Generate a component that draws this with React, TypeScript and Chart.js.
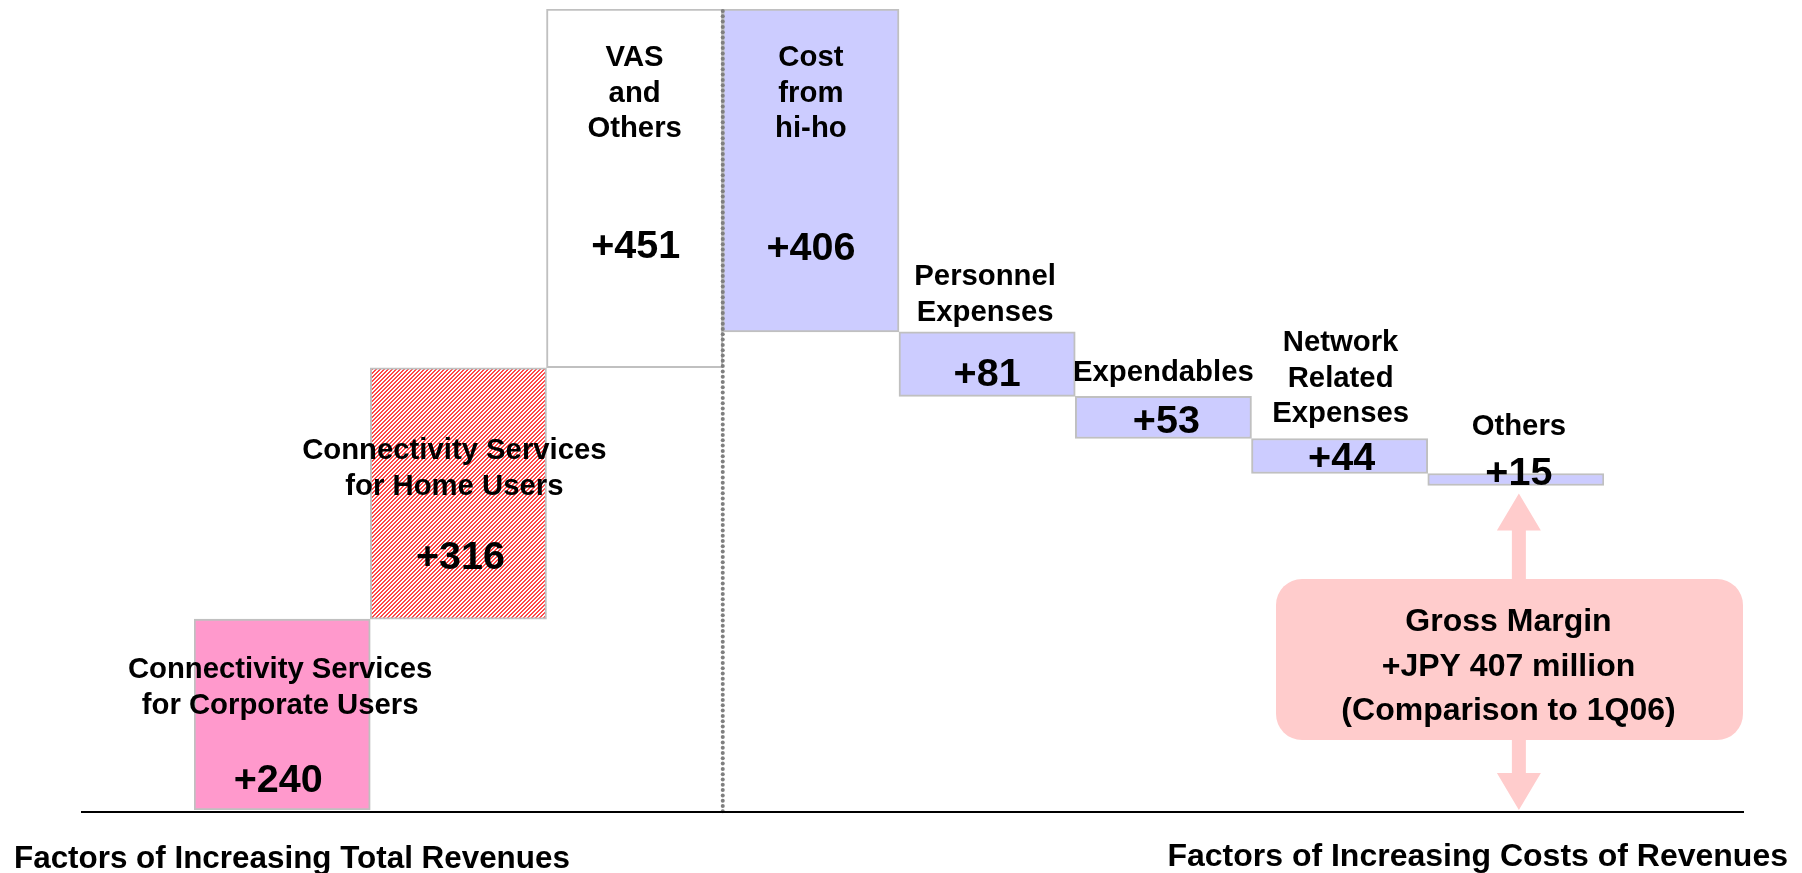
import React, { useEffect, useRef } from 'react';
import { Chart, registerables } from 'chart.js';

Chart.register(...registerables);

const categories = [
  'Connectivity Services for Corporate Users',
  'Connectivity Services for Home Users',
  'VAS and Others',
  'Cost from hi-ho',
  'Personnel Expenses',
  'Expendables',
  'Network Related Expenses',
  'Others',
];
const revenueDeltas = [240, 316, 451];
const costDeltas = [406, 81, 53, 44, 15];
const valueLabels = ['+240', '+316', '+451', '+406', '+81', '+53', '+44', '+15'];
const barLabels: string[][] = [
  ['Connectivity Services', 'for Corporate Users'],
  ['Connectivity Services', 'for Home Users'],
  ['VAS', 'and', 'Others'],
  ['Cost', 'from', 'hi-ho'],
  ['Personnel', 'Expenses'],
  ['Expendables'],
  ['Network', 'Related', 'Expenses'],
  ['Others'],
];
const boxLines = ['Gross Margin', '+JPY 407 million', '(Comparison to 1Q06)'];
const leftTitle = 'Factors of Increasing Total Revenues';
const rightTitle = 'Factors of Increasing Costs of Revenues';

// label layout: [dx label, first baseline, dx value, value baseline]
const labelLayout: number[][] = [
  [-2, 678, -4, 792],
  [-4, 459, 2, 569],
  [0, 66, 1, 258],
  [0, 66, 0, 260],
  [-2, 285, 0, 386],
  [0, 381, 3, 433],
  [1, 351, 2, 470],
  [3, 435, 3, 485],
];

const FONT = '"Liberation Sans", Arial, Helvetica, sans-serif';

function buildRanges(): [number, number][] {
  const out: [number, number][] = [];
  let acc = 0;
  for (const d of revenueDeltas) {
    out.push([acc, acc + d]);
    acc += d;
  }
  for (const d of costDeltas) {
    out.push([acc - d, acc]);
    acc -= d;
  }
  return out;
}

function makeHatch(): CanvasPattern | string {
  const c = document.createElement('canvas');
  c.width = 4;
  c.height = 4;
  const g = c.getContext('2d');
  if (!g) return '#ff9090';
  g.fillStyle = '#ffffff';
  g.fillRect(0, 0, 4, 4);
  g.fillStyle = '#ff4848';
  for (let x = 0; x < 4; x++) {
    for (let y = 0; y < 4; y++) {
      if ((x + y) % 4 < 2) g.fillRect(x, y, 1, 1);
    }
  }
  const p = g.createPattern(c, 'repeat');
  return p || '#ff9090';
}

export default function App() {
  const ref = useRef<HTMLCanvasElement | null>(null);

  useEffect(() => {
    const canvas = ref.current;
    if (!canvas) return;
    const ranges = buildRanges();
    const total = revenueDeltas.reduce((a, b) => a + b, 0);
    const hatch = makeHatch();

    const annot = {
      id: 'annot',
      afterDatasetsDraw(chart: any) {
        const ctx: CanvasRenderingContext2D = chart.ctx;
        const xs = chart.scales.x;
        const ys = chart.scales.y;
        const area = chart.chartArea;
        const y0 = ys.getPixelForValue(0);
        ctx.save();

        // dotted separator between revenue and cost factors
        const sepX = (xs.getPixelForValue(2) + xs.getPixelForValue(3)) / 2;
        ctx.fillStyle = '#7f7f7f';
        const yTop = ys.getPixelForValue(total) + 2;
        const yBot = y0 + 6;
        for (let y = yTop; y <= yBot; y += 5.3) {
          ctx.beginPath();
          ctx.arc(sepX, y, 2, 0, Math.PI * 2);
          ctx.fill();
        }

        // baseline
        ctx.strokeStyle = '#000000';
        ctx.lineWidth = 2;
        ctx.beginPath();
        ctx.moveTo(area.left - 113, y0 + 2);
        ctx.lineTo(area.right + 140, y0 + 2);
        ctx.stroke();

        // gross margin arrow
        const last = ranges[ranges.length - 1];
        const ax = xs.getPixelForValue(ranges.length - 1) + 3;
        const topTip = ys.getPixelForValue(last[0]) + 8;
        const botTip = y0;
        const headH = 37;
        const headW = 22;
        const shaftW = 7;
        ctx.fillStyle = '#ffcccc';
        ctx.beginPath();
        ctx.moveTo(ax, topTip);
        ctx.lineTo(ax + headW, topTip + headH);
        ctx.lineTo(ax + shaftW, topTip + headH);
        ctx.lineTo(ax + shaftW, botTip - headH);
        ctx.lineTo(ax + headW, botTip - headH);
        ctx.lineTo(ax, botTip);
        ctx.lineTo(ax - headW, botTip - headH);
        ctx.lineTo(ax - shaftW, botTip - headH);
        ctx.lineTo(ax - shaftW, topTip + headH);
        ctx.lineTo(ax - headW, topTip + headH);
        ctx.closePath();
        ctx.fill();

        // rounded box
        const bx = 1276, by = 579, bw = 467, bh = 161, r = 26;
        ctx.beginPath();
        ctx.moveTo(bx + r, by);
        ctx.lineTo(bx + bw - r, by);
        ctx.arcTo(bx + bw, by, bx + bw, by + r, r);
        ctx.lineTo(bx + bw, by + bh - r);
        ctx.arcTo(bx + bw, by + bh, bx + bw - r, by + bh, r);
        ctx.lineTo(bx + r, by + bh);
        ctx.arcTo(bx, by + bh, bx, by + bh - r, r);
        ctx.lineTo(bx, by + r);
        ctx.arcTo(bx, by, bx + r, by, r);
        ctx.closePath();
        ctx.fill();

        ctx.fillStyle = '#000000';
        ctx.textAlign = 'center';
        ctx.textBaseline = 'alphabetic';
        ctx.font = `bold 32px ${FONT}`;
        boxLines.forEach((t, i) => {
          ctx.fillText(t, bx + bw / 2 - 1, 631 + i * 44.5);
        });

        // bar labels
        barLabels.forEach((lines, i) => {
          const cx = xs.getPixelForValue(i);
          const [dxL, yL, dxV, yV] = labelLayout[i];
          ctx.font = `bold 29.3px ${FONT}`;
          lines.forEach((t, j) => {
            ctx.fillText(t, cx + dxL, yL + j * 35.5);
          });
          ctx.font = `bold 39.5px ${FONT}`;
          ctx.fillText(valueLabels[i], cx + dxV, yV);
        });

        // titles
        ctx.textAlign = 'left';
        ctx.font = `bold 31.4px ${FONT}`;
        ctx.fillText(leftTitle, 14, 868);
        ctx.textAlign = 'right';
        ctx.font = `bold 32px ${FONT}`;
        ctx.fillText(rightTitle, 1788, 866);

        ctx.restore();
      },
    };

    const chart = new Chart(canvas, {
      type: 'bar',
      data: {
        labels: categories,
        datasets: [
          {
            data: ranges as any,
            backgroundColor: ['#ff99cc', hatch, '#ffffff', '#ccccff', '#ccccff', '#ccccff', '#ccccff', '#ccccff'] as any,
            borderColor: '#c0c0c0',
            borderWidth: 2,
            borderSkipped: false,
            barPercentage: 1,
            categoryPercentage: 1,
          },
        ],
      },
      options: {
        animation: false,
        responsive: false,
        maintainAspectRatio: false,
        devicePixelRatio: 1,
        layout: { padding: { left: 194, right: 198, top: 9, bottom: 63 } },
        scales: {
          x: { display: false },
          y: { display: false, min: 0, max: total },
        },
        plugins: {
          legend: { display: false },
          tooltip: { enabled: false },
        },
      },
      plugins: [annot],
    });
    return () => chart.destroy();
  }, []);

  return (
    <div style={{ position: 'fixed', left: 0, top: 0, width: 1802, height: 873, background: '#ffffff' }}>
      <canvas ref={ref} width={1802} height={873} style={{ width: 1802, height: 873, display: 'block' }} />
    </div>
  );
}
